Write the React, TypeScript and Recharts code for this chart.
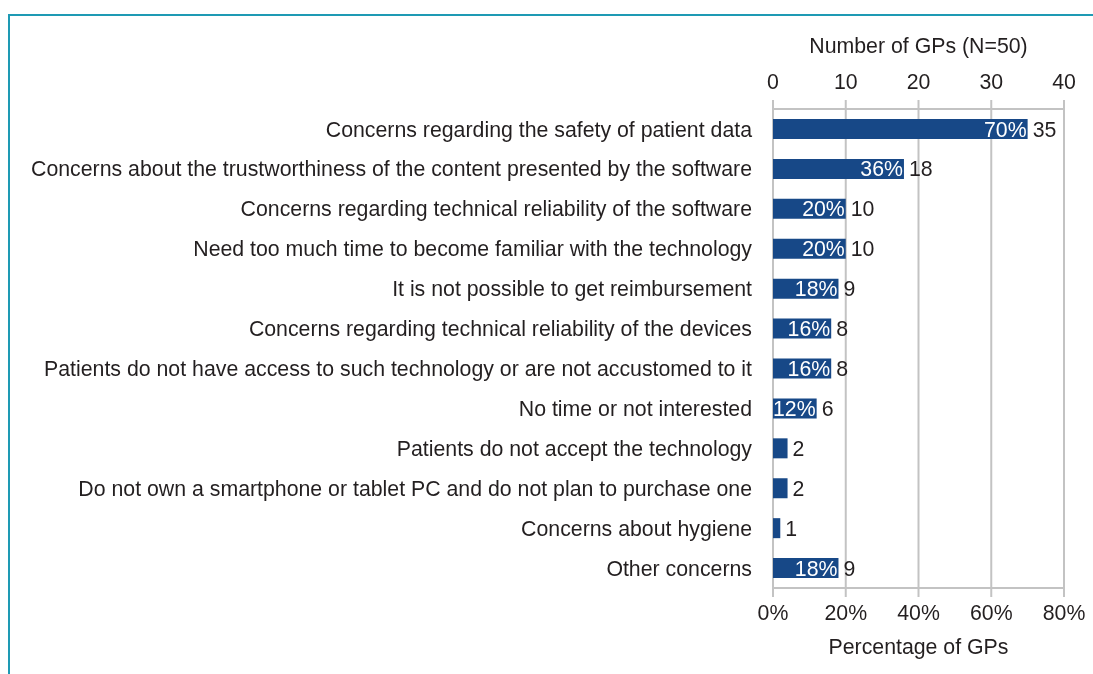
import React from "react";
import { BarChart, Bar, XAxis, YAxis, CartesianGrid, LabelList } from "recharts";

const categories = [
  "Concerns regarding the safety of patient data",
  "Concerns about the trustworthiness of the content presented by the software",
  "Concerns regarding technical reliability of the software",
  "Need too much time to become familiar with the technology",
  "It is not possible to get reimbursement",
  "Concerns regarding technical reliability of the devices",
  "Patients do not have access to such technology or are not accustomed to it",
  "No time or not interested",
  "Patients do not accept the technology",
  "Do not own a smartphone or tablet PC and do not plan to purchase one",
  "Concerns about hygiene",
  "Other concerns",
];
const counts = [35, 18, 10, 10, 9, 8, 8, 6, 2, 2, 1, 9];
const percentLabels = ["70%", "36%", "20%", "20%", "18%", "16%", "16%", "12%", "", "", "", "18%"];
const countTicks = [0, 10, 20, 30, 40];
const pctTicks = [0, 20, 40, 60, 80];
const boundaryTicks = [0, 1, 2, 3, 4, 5, 6, 7, 8, 9, 10, 11, 12];

const data = categories.map((c, i) => ({ name: c, count: counts[i], pct: percentLabels[i] }));

const FONT = "'Liberation Sans', Arial, Helvetica, sans-serif";
const FS = 21.3;
const TEXT = "#231f20";
const GRAY = "#c3c3c3";
const BAR = "#174887";

export default function App() {
  return (
    <div style={{ position: "relative", width: 1077, height: 658, fontFamily: FONT }}>
      <div
        style={{
          position: "fixed",
          left: 8,
          top: 14,
          right: 0,
          bottom: 0,
          borderTop: "2px solid #1e9ab4",
          borderLeft: "2px solid #1e9ab4",
          pointerEvents: "none",
        }}
      />
      <BarChart
        width={1077}
        height={658}
        data={data}
        layout="vertical"
        margin={{ top: 50, right: 21, bottom: 0, left: 0 }}
        barSize={20}
        style={{ fontFamily: FONT }}
      >
        <CartesianGrid horizontal={false} vertical={true} stroke={GRAY} strokeWidth={2} />
        <XAxis
          type="number"
          orientation="top"
          domain={[0, 40]}
          ticks={countTicks}
          allowDataOverflow
          height={51}
          tickSize={9}
          tickMargin={11}
          stroke={GRAY}
          strokeWidth={2}
          tick={{ fill: TEXT, fontSize: FS, fontFamily: FONT }}
          label={{ value: "Number of GPs (N=50)", position: "top", offset: 5, fill: TEXT, fontSize: FS, fontFamily: FONT }}
        />
        <XAxis
          xAxisId="pct"
          type="number"
          orientation="bottom"
          domain={[0, 80]}
          ticks={pctTicks}
          allowDataOverflow
          height={78}
          tickSize={9}
          tickMargin={8}
          stroke={GRAY}
          strokeWidth={2}
          tickFormatter={(v: number) => `${v}%`}
          tick={{ fill: TEXT, fontSize: FS, fontFamily: FONT }}
          label={{ value: "Percentage of GPs", position: "insideBottom", offset: 12, fill: TEXT, fontSize: FS, fontFamily: FONT }}
        />
        <YAxis
          type="number"
          domain={[0, 12]}
          ticks={boundaryTicks}
          allowDataOverflow
          width={0}
          tickSize={8}
          stroke={GRAY}
          strokeWidth={2}
          tickFormatter={() => ""}
        />
        <YAxis
          yAxisId="cat"
          type="category"
          dataKey="name"
          width={765}
          axisLine={false}
          tickLine={false}
          tickSize={8}
          tickMargin={13}
          interval={0}
          tick={{ fill: TEXT, fontSize: FS, fontFamily: FONT }}
        />
        <Bar dataKey="count" yAxisId="cat" fill={BAR} isAnimationActive={false}>
          <LabelList dataKey="pct" position="insideRight" offset={1} fill="#ffffff" fontSize={FS} fontFamily={FONT} />
          <LabelList dataKey="count" position="right" offset={5} fill={TEXT} fontSize={FS} fontFamily={FONT} />
        </Bar>
      </BarChart>
    </div>
  );
}
